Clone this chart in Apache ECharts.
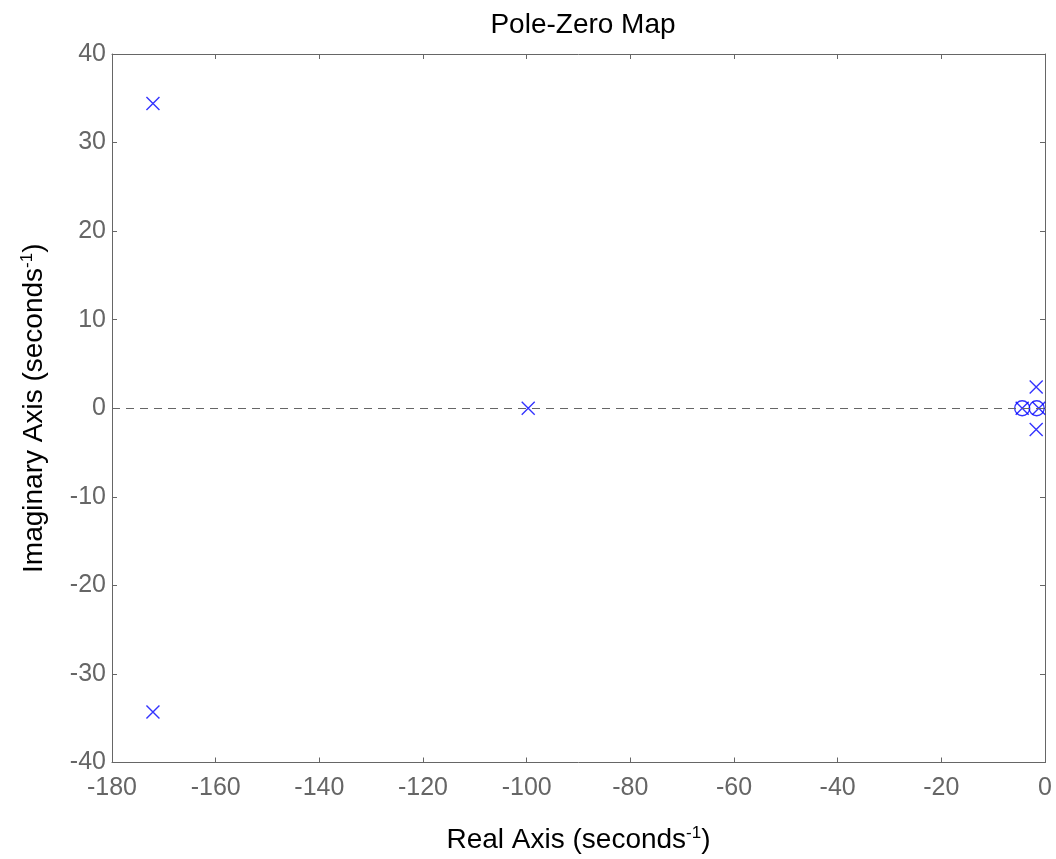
<!DOCTYPE html>
<html>
<head>
<meta charset="utf-8">
<title>Pole-Zero Map</title>
<script src="https://cdn.jsdelivr.net/npm/echarts@6/dist/echarts.min.js"></script>
<style>
    html, body { margin: 0; padding: 0; background: #fff; }
    #app { width: 1056px; height: 859px; }
</style>
</head>
<body>
<div id="app"></div>
<script>
// 极点 (x) 和零点 (o)
let poleRe = [-172.1, -172.1, -99.7, -4.4, -1.2, -1.7, -1.7];
let poleIm = [34.4, -34.3, 0, 0, 0, 2.4, -2.4];
let zeroRe = [-4.4, -1.6];
let zeroIm = [0, 0];
// 坐标轴刻度
let xTicks = [-180, -160, -140, -120, -100, -80, -60, -40, -20, 0];
let yTicks = [-40, -30, -20, -10, 0, 10, 20, 30, 40];

let gray = "#666";
let blue = "#0000ff";
let font = "Liberation Sans, Arial, sans-serif";

let pair = (re, im) => re.map((v, i) => [v, im[i]]);

let myChart = echarts.init(document.querySelector("#app"));

// 公共坐标轴样式
let axisBase = {
    type: "value",
    axisLine: { show: true, onZero: false, lineStyle: { color: gray, width: 1 } },
    axisTick: { show: true, inside: true, length: 5, lineStyle: { color: gray } },
    splitLine: { show: false }
};

let supRich = {
    sup: {
        fontSize: 17,
        fontFamily: font,
        color: "#000",
        verticalAlign: "bottom",
        padding: [0, 0, 14, 0]
    }
};

myChart.setOption({
    animation: false,
    backgroundColor: "#fff",
    title: {
        text: "Pole-Zero Map",
        left: 578,
        textAlign: "center",
        top: 6,
        textStyle: { color: "#000", fontSize: 28, fontWeight: "normal", fontFamily: font }
    },
    grid: { left: 112, right: 11, top: 54, bottom: 95 },
    xAxis: [
        Object.assign({}, axisBase, {
            position: "bottom",
            min: xTicks[0],
            max: xTicks[xTicks.length - 1],
            interval: 20,
            name: "Real Axis (seconds{sup|-1})",
            nameLocation: "middle",
            nameGap: 62,
            nameTextStyle: { color: "#000", fontSize: 28, fontFamily: font, rich: supRich },
            axisLabel: {
                color: gray, fontSize: 25, fontFamily: font, margin: 13,
                showMinLabel: true, showMaxLabel: true
            }
        }),
        Object.assign({}, axisBase, {
            position: "top",
            min: xTicks[0],
            max: xTicks[xTicks.length - 1],
            interval: 20,
            axisLabel: { show: false }
        })
    ],
    yAxis: [
        Object.assign({}, axisBase, {
            position: "left",
            min: yTicks[0],
            max: yTicks[yTicks.length - 1],
            interval: 10,
            name: "Imaginary Axis (seconds{sup|-1})",
            nameLocation: "middle",
            nameGap: 62,
            nameTextStyle: { color: "#000", fontSize: 28, fontFamily: font, rich: supRich },
            axisLabel: {
                color: gray, fontSize: 25, fontFamily: font, margin: 6,
                showMinLabel: true, showMaxLabel: true
            }
        }),
        Object.assign({}, axisBase, {
            position: "right",
            min: yTicks[0],
            max: yTicks[yTicks.length - 1],
            interval: 10,
            axisLabel: { show: false }
        })
    ],
    series: [
        {
            name: "zero line",
            type: "line",
            data: [],
            markLine: {
                silent: true,
                symbol: "none",
                label: { show: false },
                lineStyle: { color: gray, type: [8, 6], width: 1 },
                data: [{ yAxis: 0 }]
            }
        },
        {
            name: "Poles",
            type: "scatter",
            symbol: "path://M0,0 L10,10 M10,0 L0,10",
            symbolSize: 13,
            itemStyle: { color: "none", borderColor: blue, borderWidth: 1.4 },
            data: pair(poleRe, poleIm),
            z: 3
        },
        {
            name: "Zeros",
            type: "scatter",
            symbol: "circle",
            symbolSize: 15,
            itemStyle: { color: "none", borderColor: blue, borderWidth: 1.4 },
            data: pair(zeroRe, zeroIm),
            z: 3
        }
    ]
});
</script>
</body>
</html>
